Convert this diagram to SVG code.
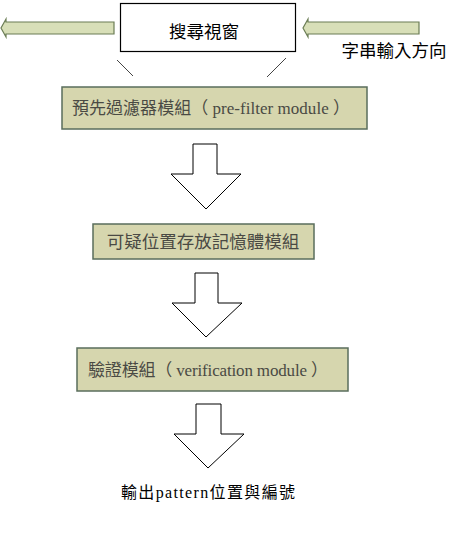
<svg xmlns="http://www.w3.org/2000/svg" width="458" height="549" viewBox="0 0 458 549">
<style>
.box{fill:#d6d6ae;stroke:#5a6e5c;stroke-width:1.5}
.lbl{font-family:"Liberation Serif","Noto Sans CJK TC",serif;fill:#4a4a44;font-size:17px}
.blk{font-family:"Liberation Serif","Noto Sans CJK TC",serif;fill:#000;font-size:17.5px}
.harrow{fill:#d8dfb8;stroke:#6b7d55;stroke-width:1.2}
.varrow{fill:#fff;stroke:#000;stroke-width:1}
.thin{stroke:#444;stroke-width:1;fill:none}
</style>
<rect width="458" height="549" fill="#fff"/>
<g id="search-window">
<rect x="120.5" y="3.5" width="175" height="48" fill="#fff" stroke="#000" stroke-width="1.2"/>
<text class="blk" x="204" y="38" text-anchor="middle">搜尋視窗</text>
</g>
<g id="input-direction">
<text class="blk" x="394" y="57" text-anchor="middle">字串輸入方向</text>
</g>
<g id="prefilter">
<rect class="box" x="62" y="87" width="305" height="42"/>
<text class="lbl" x="72" y="114" textLength="278" lengthAdjust="spacing">預先過濾器模組（ pre-filter module ）</text>
</g>
<g id="suspect-memory">
<rect class="box" x="93" y="224" width="221" height="35"/>
<text class="lbl" x="203" y="248" text-anchor="middle" style="font-size:17.5px">可疑位置存放記憶體模組</text>
</g>
<g id="verification">
<rect class="box" x="77" y="348" width="271" height="43"/>
<text class="lbl" x="88" y="376" textLength="240" lengthAdjust="spacing">驗證模組（ verification module ）</text>
</g>
<g id="output">
<text class="blk" x="121" y="498" style="font-size:16px" textLength="174" lengthAdjust="spacing">輸出pattern位置與編號</text>
</g>
<g id="connectors">
<polygon class="harrow" points="114,22 6,22 6,19 1,28 6,37 6,34 114,34"/>
<polygon class="harrow" points="419,22 308,22 308,19 303,28 308,37 308,34 419,34"/>
<line class="thin" x1="117" y1="60" x2="133" y2="76"/>
<line class="thin" x1="286" y1="58" x2="267" y2="77"/>
<polygon class="varrow" points="193,144 217,144 217,174 241,174 206,209 171,174 193,174"/>
<polygon class="varrow" points="195,273 218,273 218,303 242,303 206,337 172,303 195,303"/>
<polygon class="varrow" points="196,404 221,404 221,434 244,434 208,468 174,434 196,434"/>
</g>
</svg>
